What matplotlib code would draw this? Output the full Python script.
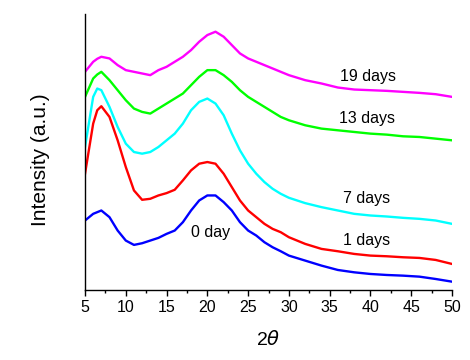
"""XRD patterns of the samples after different soaking times."""

import matplotlib

matplotlib.use("Agg")
import matplotlib.pyplot as plt
from matplotlib.ticker import MultipleLocator

plt.rcParams["font.family"] = ["Liberation Sans", "DejaVu Sans"]

# 2theta sample positions (degrees)
two_theta = [5, 6, 6.5, 7, 8, 9, 10, 11, 12, 13, 14, 15, 16, 17, 18, 19, 20,
             21, 22, 23, 24, 25, 26, 27, 28, 29, 30, 32, 34, 36, 38, 40, 42,
             44, 46, 48, 50]

# intensities (arbitrary units, stacked offsets included)
day0 = [208, 228, 233, 238, 218, 178, 148, 135, 140, 148, 156, 168, 178, 203,
        238, 268, 283, 283, 263, 238, 203, 178, 163, 143, 128, 116, 103, 88,
        73, 60, 53, 48, 45, 43, 40, 33, 25]
day1 = [348, 498, 538, 550, 518, 448, 368, 298, 270, 273, 283, 290, 300, 328,
        358, 378, 383, 378, 348, 308, 268, 238, 218, 198, 183, 173, 158, 138,
        123, 116, 108, 103, 101, 98, 96, 90, 78]
day7 = [428, 578, 603, 598, 548, 488, 438, 413, 408, 413, 428, 448, 468, 498,
        538, 563, 573, 558, 523, 468, 418, 378, 348, 323, 303, 288, 276, 260,
        248, 238, 228, 223, 220, 216, 213, 208, 198]
day13 = [578, 633, 645, 653, 628, 598, 568, 543, 533, 528, 543, 558, 573, 588,
         613, 638, 658, 658, 643, 623, 598, 578, 563, 548, 533, 518, 508, 493,
         483, 478, 473, 468, 465, 460, 458, 453, 448]
day19 = [653, 683, 692, 698, 693, 673, 658, 653, 648, 643, 658, 668, 683, 698,
         718, 743, 763, 773, 758, 733, 708, 693, 683, 673, 663, 653, 643, 628,
         618, 606, 600, 598, 596, 593, 590, 586, 578]

SERIES = [
    (day0, "#0000FF", "0 day", 18.0, 160),
    (day1, "#FF0000", "1 days", 36.6, 135),
    (day7, "#00FFFF", "7 days", 36.6, 261),
    (day13, "#00FF00", "13 days", 36.2, 500),
    (day19, "#FF00FF", "19 days", 36.3, 626),
]

fig = plt.figure(figsize=(4.7, 3.6), dpi=100)
ax = fig.add_axes([0.1809, 0.1944, 0.7808, 0.7667])

for values, color, label, tx, ty in SERIES:
    ax.plot(two_theta, values, color=color, linewidth=1.7)
    ax.text(tx, ty, label, fontsize=11.5, ha="left", va="baseline", color="black")

ax.set_xlim(5, 50)
ax.set_ylim(0, 826)
ax.xaxis.set_major_locator(MultipleLocator(5))
ax.xaxis.set_minor_locator(MultipleLocator(2.5))
ax.tick_params(axis="x", which="major", direction="out", length=4, width=1.0,
               labelsize=11.5, pad=3)
ax.tick_params(axis="x", which="minor", direction="out", length=2, width=1.0)
ax.set_yticks([])

for side in ("top", "right"):
    ax.spines[side].set_visible(False)
for side in ("left", "bottom"):
    ax.spines[side].set_linewidth(1.0)

ax.set_xlabel(r"2$\theta$", fontsize=14)
ax.set_ylabel("Intensity (a.u.)", fontsize=15)
ax.xaxis.set_label_coords(0.5, -0.145)
ax.yaxis.set_label_coords(-0.096, 0.471)

fig.savefig("out.png", dpi=100)
